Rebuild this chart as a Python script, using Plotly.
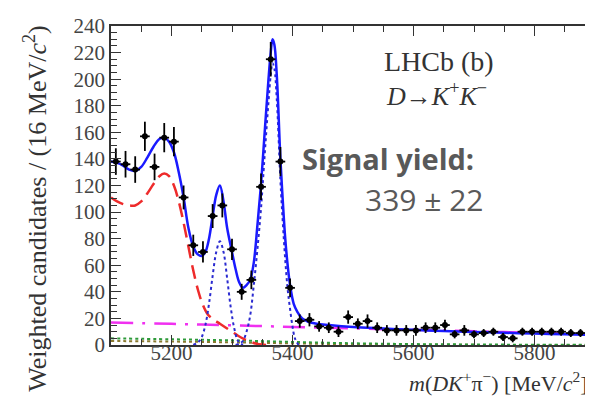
import plotly.graph_objects as go

# ---------------- data ----------------
bin_centers = [5108 + 16 * i for i in range(50)]
counts = [138, 136, 132, 157, 134, 156, 153, 111, 75, 70,
          97, 105, 72, 40, 49, 119, 215, 138, 43, 18,
          19, 14, 13, 10, 21, 16, 18, 13, 11, 11,
          11, 11, 13, 13, 15, 8, 11, 8, 9, 10,
          6, 5, 10, 10, 10, 10, 10, 9, 9, 8]
count_err = [10, 10, 10, 11, 10, 11, 11, 9, 8, 8,
             9, 9, 8, 6, 7, 10, 13, 11, 7, 5,
             5, 4, 4, 4, 5, 4, 5, 4, 4, 4,
             4, 4, 4, 4, 4, 3, 4, 3, 3, 3,
             3, 3, 3, 3, 3, 3, 3, 3, 3, 3]
half_bin = [8] * 50

total_m = [5100, 5110, 5120, 5130, 5140, 5150, 5160, 5170, 5180, 5188, 5196, 5204, 5212,
           5220, 5228, 5236, 5244, 5250, 5256, 5262, 5268, 5274, 5280, 5286, 5292, 5300,
           5306, 5312, 5318, 5324, 5330, 5336, 5342, 5348, 5354, 5360, 5364, 5367, 5370,
           5374, 5380, 5384, 5388, 5392, 5396, 5402, 5408, 5416, 5426, 5440, 5460, 5500,
           5550, 5600, 5650, 5700, 5750, 5800, 5850, 5900]
total_v = [138, 137, 135, 132, 131, 134, 141, 149, 155, 156, 153, 145, 130,
           111, 88, 74, 68, 67, 70, 80, 97, 113, 120, 108, 88, 70,
           57, 47, 43, 45, 49, 62, 90, 121, 160, 198, 220, 230, 226,
           203, 140, 108, 80, 60, 45, 31, 25, 20, 17.5, 16, 15, 13.5,
           12.4, 11.4, 10.5, 9.8, 9.2, 8.6, 8.1, 7.6]

sig1_m = [5236, 5244, 5250, 5256, 5262, 5268, 5274, 5280, 5286, 5292, 5298, 5304, 5310, 5318]
sig1_v = [0, 2, 6, 15, 31, 52, 70, 78, 70, 50, 28, 12, 3, 0]

sig2_m = [5306, 5312, 5318, 5324, 5330, 5336, 5342, 5348, 5354, 5360, 5364, 5367, 5370,
          5374, 5380, 5384, 5388, 5392, 5396, 5400, 5404, 5410]
sig2_v = [0, 1, 3, 10, 22, 45, 72, 103, 143, 181, 203, 212, 208,
          185, 124, 92, 64, 42, 27, 14, 5, 0]

prc_m = [5100, 5110, 5120, 5130, 5140, 5150, 5160, 5170, 5180, 5188, 5196, 5204, 5212,
         5220, 5228, 5236, 5244, 5252, 5260, 5270, 5280, 5290, 5300, 5310, 5320, 5330,
         5340, 5350, 5360]
prc_v = [111, 108, 106, 105, 105, 108, 114, 121, 127, 129, 127, 120, 108,
         92, 74, 56, 41, 30, 23, 19, 16, 13, 10, 7, 4.5, 2.5,
         1, 0.3, 0]

comb_m = [5100, 5200, 5300, 5400, 5500, 5600, 5700, 5800, 5900]
comb_v = [17, 15.9, 14.8, 13.6, 12.5, 11.4, 10.3, 9.1, 8]

bkg2_m = [5100, 5200, 5300, 5400, 5500, 5600, 5700, 5800, 5900]
bkg2_v = [5, 4.3, 3.5, 2.3, 1.3, 0.7, 0.4, 0.2, 0.1]

bkg3_m = [5100, 5200, 5300, 5400, 5500, 5600, 5700, 5800, 5900]
bkg3_v = [3, 2.6, 2, 1.2, 0.6, 0.3, 0.1, 0, 0]

X_RANGE = [5100, 5900]
Y_RANGE = [0, 240]

# ---------------- figure ----------------
fig = go.Figure()

fig.add_trace(go.Scatter(x=bkg3_m, y=bkg3_v, mode="lines", line_shape="spline",
                         line=dict(color="#8a7a30", width=2, dash="dot")))
fig.add_trace(go.Scatter(x=bkg2_m, y=bkg2_v, mode="lines", line_shape="spline",
                         line=dict(color="#2e9a3a", width=2, dash="dot")))
fig.add_trace(go.Scatter(x=comb_m, y=comb_v, mode="lines", line_shape="spline",
                         line=dict(color="#f030f0", width=2.5, dash="22px,9px,3px,9px")))
fig.add_trace(go.Scatter(x=prc_m, y=prc_v, mode="lines", line_shape="spline",
                         line=dict(color="#ee2b2b", width=2.5, dash="14px,7px")))
fig.add_trace(go.Scatter(x=sig1_m, y=sig1_v, mode="lines", line_shape="spline",
                         line=dict(color="#2a2ad0", width=2, dash="dot")))
fig.add_trace(go.Scatter(x=sig2_m, y=sig2_v, mode="lines", line_shape="spline",
                         line=dict(color="#2a2ad0", width=2, dash="dot")))
fig.add_trace(go.Scatter(x=total_m, y=total_v, mode="lines", line_shape="spline",
                         line=dict(color="#1a1aff", width=2.5)))
fig.add_trace(go.Scatter(x=bin_centers, y=counts, mode="markers",
                         marker=dict(color="black", size=6, symbol="circle"),
                         error_y=dict(type="data", array=count_err, color="black",
                                      thickness=1.8, width=0),
                         error_x=dict(type="data", array=half_bin, color="black",
                                      thickness=1.8, width=0)))
# invisible trace to activate mirrored tick axes
fig.add_trace(go.Scatter(x=X_RANGE, y=Y_RANGE, xaxis="x2", yaxis="y2", mode="markers",
                         marker=dict(opacity=0), hoverinfo="skip"))

tickfont = dict(family="Liberation Serif, Times New Roman, serif", size=21, color="#444444")
tick_common = dict(ticks="inside", ticklen=10, tickwidth=1.3, tickcolor="#333",
                   showline=True, linecolor="#333", linewidth=1.5,
                   showgrid=False, zeroline=False)
minor_x = dict(tick0=5100, dtick=50, ticks="inside", ticklen=6, tickwidth=1.3,
               tickcolor="#333", showgrid=False)
minor_y = dict(tick0=0, dtick=5, ticks="inside", ticklen=6, tickwidth=1.3,
               tickcolor="#333", showgrid=False)

fig.update_layout(
    width=593, height=399,
    margin=dict(l=103, r=6, t=15, b=62),
    paper_bgcolor="white", plot_bgcolor="white",
    showlegend=False,
    xaxis=dict(range=X_RANGE, tickmode="linear", tick0=5200, dtick=200,
               ticklabelstandoff=-12, tickfont=tickfont, minor=minor_x, **tick_common),
    yaxis=dict(range=Y_RANGE, tickmode="linear", tick0=0, dtick=20, tickfont=tickfont,
               minor=minor_y, **tick_common),
    xaxis2=dict(range=X_RANGE, overlaying="x", side="top", anchor="y2",
                tickmode="linear", tick0=5200, dtick=200, showticklabels=False,
                minor=minor_x, **tick_common),
    yaxis2=dict(range=Y_RANGE, overlaying="y", side="right", anchor="x2",
                tickmode="linear", tick0=0, dtick=20, showticklabels=False,
                minor=minor_y, **tick_common),
)

serif = "Liberation Serif, Times New Roman, serif"
fig.add_annotation(x=0.56, y=0.89, xref="paper", yref="paper", xanchor="left",
                   yanchor="middle", showarrow=False, text="LHCb (b)",
                   font=dict(family=serif, size=28, color="#333"))
fig.add_annotation(x=0.565, y=0.785, xref="paper", yref="paper", xanchor="left",
                   yanchor="middle", showarrow=False,
                   text="<i>D</i>→<i>K</i><sup>+</sup><i>K</i><sup>−</sup>",
                   font=dict(family=serif, size=26, color="#333"))
fig.add_annotation(x=0.39, y=0.585, xref="paper", yref="paper", xanchor="left",
                   yanchor="middle", showarrow=False, text="<b>Signal yield:</b>",
                   font=dict(family="Open Sans, sans-serif", size=29, color="#595959"))
fig.add_annotation(x=0.52, y=0.455, xref="paper", yref="paper", xanchor="left",
                   yanchor="middle", showarrow=False, text="339 ± 22",
                   font=dict(family="Open Sans, sans-serif", size=30, color="#595959"))
fig.add_annotation(x=0.99, y=-0.115, xref="paper", yref="paper", xanchor="right",
                   yanchor="middle", showarrow=False,
                   text="<i>m</i>(<i>DK</i><sup>+</sup>π<sup>−</sup>) [MeV/<i>c</i><sup>2</sup>]",
                   font=dict(family=serif, size=22, color="#333"))
fig.add_annotation(x=-0.155, y=0.43, xref="paper", yref="paper", xanchor="center",
                   yanchor="middle", showarrow=False, textangle=-90,
                   text="Weighted candidates / (16 MeV/<i>c</i><sup>2</sup>)",
                   font=dict(family=serif, size=26, color="#333"))

fig.write_html("out.html")
